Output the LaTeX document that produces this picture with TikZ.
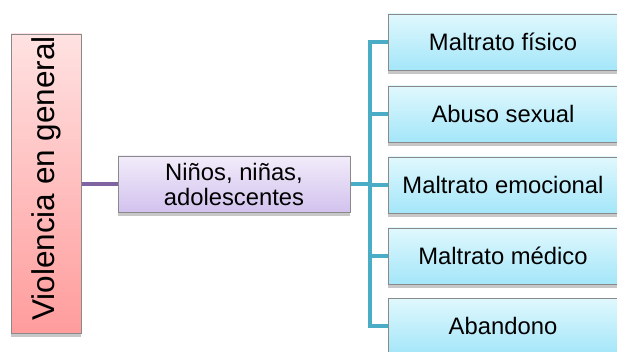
\documentclass[tikz,border=0pt]{standalone}
\usepackage{fontspec}
\setmainfont{Liberation Sans}
\usetikzlibrary{shadows,backgrounds}
\pgfdeclarelayer{paper}
\pgfsetlayers{paper,background,main}
\definecolor{pinktop}{HTML}{FFE2E2}
\definecolor{pinkbot}{HTML}{FF9C9C}
\definecolor{purptop}{HTML}{F2ECFA}
\definecolor{purpbot}{HTML}{D2C2EE}
\definecolor{bluetop}{HTML}{E0F8FD}
\definecolor{bluebot}{HTML}{A4E6F9}
\definecolor{purpline}{HTML}{8064A2}
\definecolor{tealline}{HTML}{4BACC6}
\definecolor{boxborder}{HTML}{8A8A8A}
\tikzset{
  basebox/.style={draw=boxborder, line width=0.9pt, inner sep=0pt, align=center,
    drop shadow={shadow xshift=0pt, shadow yshift=-4pt, opacity=0.22, fill=black},
    font=\fontsize{23.8}{25}\selectfont},
  rootbox/.style={basebox, top color=pinktop, bottom color=pinkbot, minimum width=70pt, minimum height=299pt, font=\fontsize{31.5}{33}\selectfont},
  midbox/.style={basebox, top color=purptop, bottom color=purpbot, minimum width=232pt, minimum height=56pt},
  leafbox/.style={basebox, top color=bluetop, bottom color=bluebot, minimum width=230pt, minimum height=56pt},
  purpconn/.style={draw=purpline, line width=4pt},
  tealconn/.style={draw=tealline, line width=4pt, line join=miter}
}
\begin{document}
\begin{tikzpicture}[x=1pt,y=-1pt]
\useasboundingbox (0,0) rectangle (617,352);
\clip (0,0) rectangle (617,352);
\begin{pgfonlayer}{paper}
\fill[white] (0,0) rectangle (617,352);
\end{pgfonlayer}
\coordinate (sTop) at (370,42);
\coordinate (sMid) at (370,184);
\coordinate (sBot) at (370,326);
\node[rootbox] (root) at (46,183.5) {\rotatebox{90}{\hspace*{10pt}Violencia en general}};
\node[midbox] (mid) at (234,184) {Niños, niñas,\\adolescentes};
\node[leafbox] (l1) at (503,42) {Maltrato físico};
\node[leafbox] (l2) at (503,114) {Abuso sexual};
\node[leafbox] (l3) at (503,185) {Maltrato emocional};
\node[leafbox] (l4) at (503,256) {Maltrato médico};
\node[leafbox] (l5) at (503,326) {Abandono};
\begin{pgfonlayer}{background}
\draw[purpconn] (root.east |- mid.west) -- (mid.west);
\draw[tealconn] (mid.east) -- (sMid);
\draw[tealconn] (l1.west) -- (sTop) -- (sBot) -- (l5.west);
\draw[tealconn] (sTop |- l2.west) -- (l2.west);
\draw[tealconn] (sTop |- l3.west) -- (l3.west);
\draw[tealconn] (sTop |- l4.west) -- (l4.west);
\end{pgfonlayer}
\end{tikzpicture}
\end{document}
